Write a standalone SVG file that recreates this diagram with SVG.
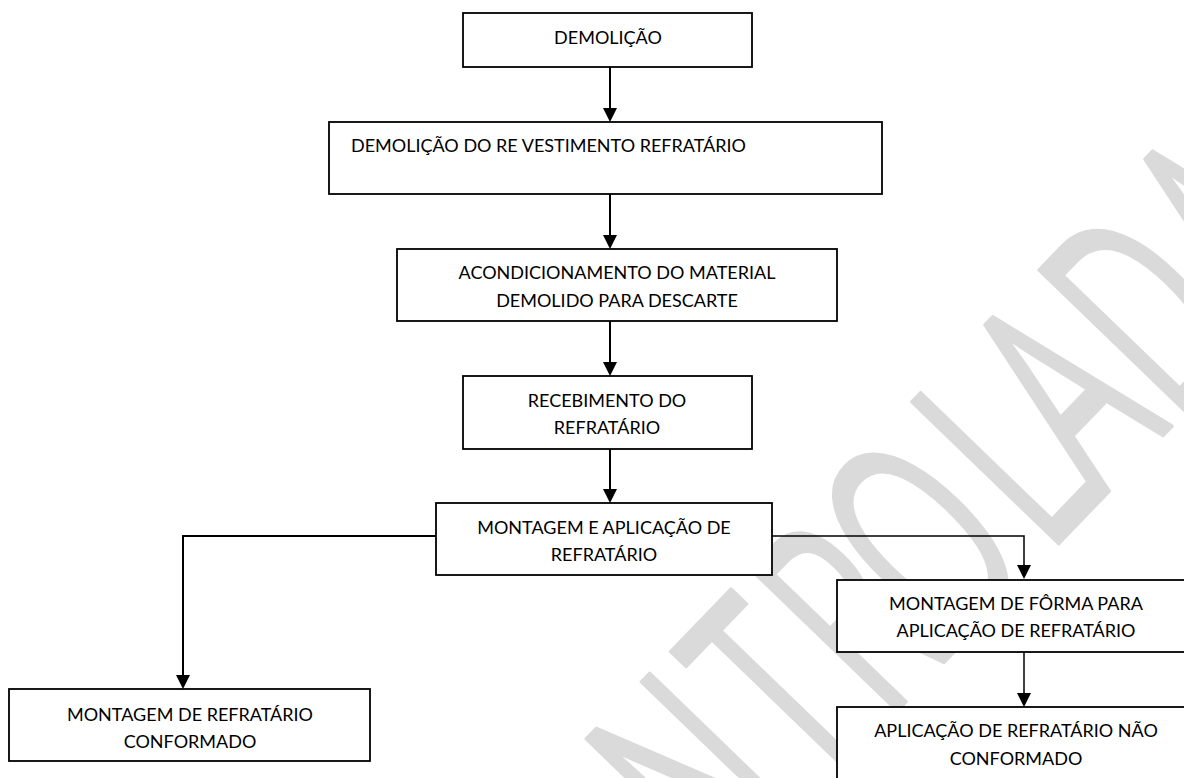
<svg xmlns="http://www.w3.org/2000/svg" width="1184" height="778" viewBox="0 0 1184 778">
<style>
.box{fill:#ffffff;stroke:#000000;stroke-width:1.8}
.t{font-family:Lato,"Open Sans","Liberation Sans",sans-serif;font-size:18px;fill:#000000}
.c{text-anchor:middle}
.ln{fill:none;stroke:#000000;stroke-width:2}
.thin{stroke-width:1.5}
.wm{font-family:"Open Sans",Lato,sans-serif;font-weight:400;font-size:285px;fill:#dadada;stroke:#dadada;stroke-width:4;stroke-linejoin:round;text-anchor:middle}
</style>
<rect width="1184" height="778" fill="#ffffff"/>
<g id="watermark">
<text class="wm" transform="translate(1136,463) rotate(-46) scale(0.58,1)" x="-1362 -1147 -922 -716 -534 -353 -147 0 198 397" y="0">CONTROLADA</text>
</g>
<g id="connectors">
<line class="ln" x1="610" y1="67" x2="610" y2="110"/>
<path d="M603,108 L617,108 L610,122 Z"/>
<line class="ln" x1="610" y1="194" x2="610" y2="237"/>
<path d="M603,235 L617,235 L610,249 Z"/>
<line class="ln" x1="610" y1="321" x2="610" y2="364"/>
<path d="M603,362 L617,362 L610,376 Z"/>
<line class="ln" x1="610" y1="449" x2="610" y2="491"/>
<path d="M603,489 L617,489 L610,503 Z"/>
<polyline class="ln" points="436,536 183,536 183,677"/>
<path d="M176,675 L190,675 L183,689 Z"/>
<polyline class="ln thin" points="772,536 1024,536 1024,567"/>
<path d="M1017,565 L1031,565 L1024,579 Z"/>
<line class="ln thin" x1="1024" y1="652" x2="1024" y2="694"/>
<path d="M1017,693 L1031,693 L1024,707 Z"/>
</g>
<g id="n1">
<rect class="box" x="463" y="13" width="289" height="54"/>
<text class="t c" x="608" y="44">DEMOLIÇÃO</text>
</g>
<g id="n2">
<rect class="box" x="329" y="122" width="553" height="72"/>
<text class="t" x="351" y="152">DEMOLIÇÃO DO RE VESTIMENTO REFRATÁRIO</text>
</g>
<g id="n3">
<rect class="box" x="397" y="249" width="440" height="72"/>
<text class="t c" x="617" y="279">ACONDICIONAMENTO DO MATERIAL</text>
<text class="t c" x="617" y="307">DEMOLIDO PARA DESCARTE</text>
</g>
<g id="n4">
<rect class="box" x="463" y="376" width="289" height="73"/>
<text class="t c" x="607" y="407">RECEBIMENTO DO</text>
<text class="t c" x="607" y="434">REFRATÁRIO</text>
</g>
<g id="n5">
<rect class="box" x="436" y="503" width="336" height="72"/>
<text class="t c" x="604" y="534">MONTAGEM E APLICAÇÃO DE</text>
<text class="t c" x="604" y="561">REFRATÁRIO</text>
</g>
<g id="n6">
<rect class="box" x="9" y="689" width="361" height="72"/>
<text class="t c" x="190" y="721">MONTAGEM DE REFRATÁRIO</text>
<text class="t c" x="190" y="748">CONFORMADO</text>
</g>
<g id="n7">
<rect class="box" x="837" y="580" width="360" height="72"/>
<text class="t c" x="1016" y="610">MONTAGEM DE FÔRMA PARA</text>
<text class="t c" x="1016" y="637">APLICAÇÃO DE REFRATÁRIO</text>
</g>
<g id="n8">
<rect class="box" x="837" y="707" width="360" height="90"/>
<text class="t c" x="1016" y="737">APLICAÇÃO DE REFRATÁRIO NÃO</text>
<text class="t c" x="1016" y="765">CONFORMADO</text>
</g>
</svg>
